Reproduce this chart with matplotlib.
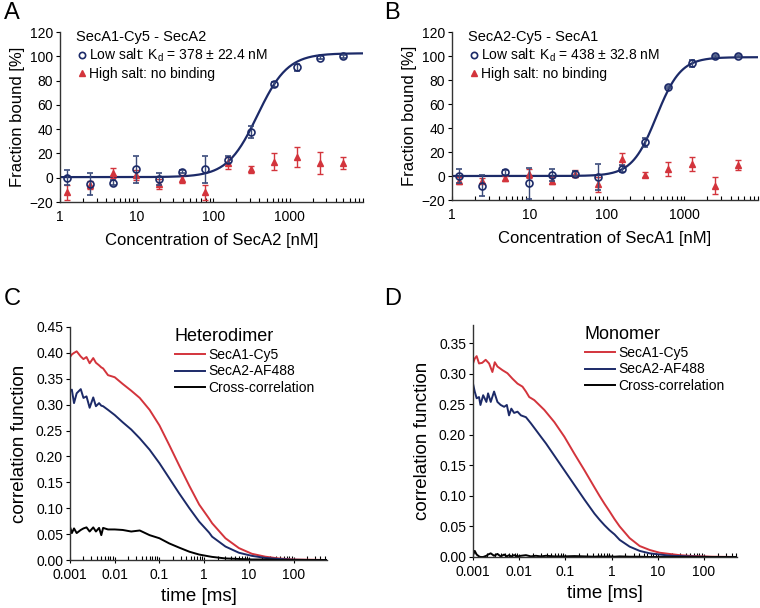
import numpy as np
import matplotlib
matplotlib.use('Agg')
import matplotlib.pyplot as plt
from matplotlib.lines import Line2D
from matplotlib.ticker import LogLocator, NullFormatter, FixedLocator, FixedFormatter, FormatStrFormatter

plt.rcParams['font.family'] = ['Liberation Sans', 'DejaVu Sans']

NAVY = '#1c2a68'
RED = '#d3343c'

# ---- binding data (MST), dilution series in nM
conc = [1.22, 2.44, 4.88, 9.77, 19.5, 39.1, 78.1, 156, 312, 625, 1250, 2500, 5000]

a_low = [0, -5, -4, 7, -1, 5, 7, 15, 38, 77, 91, 99, 100]
a_low_err = [6, 9, 2, 11, 5, 1, 11, 3, 5, 2, 3, 1, 1]
a_high = [-12, -6, 4, 2, -5, -1, -12, 12, 7, 13, 17, 12, 12]
a_high_err = [6, 3, 4, 4, 4, 3, 6, 5, 3, 7, 8, 9, 5]

b_low = [0, -8, 3, -6, 1, 2, -1, 6, 28, 74, 94, 100, 100]
b_low_err = [6, 9, 2, 13, 5, 2, 11, 3, 4, 1, 3, 1, 1]
b_high = [-4, -4, -2, 2, -4, 2, -7, 14, 1, 6, 10, -8, 9]
b_high_err = [3, 2, 2, 4, 3, 3, 6, 5, 2, 6, 6, 7, 4]

# fit parameters: [bottom, top, Kd, hill]
fit_a = [0.5, 102.5, 378, 2.2]
fit_b = [0.0, 99.0, 438, 2.75]

# ---- FCS curves, time in ms
tC = [0.001, 0.0011, 0.00123, 0.00141, 0.00174, 0.002, 0.00234, 0.00275, 0.00331,
      0.0038, 0.00447, 0.00501, 0.0055, 0.00708, 0.01, 0.0151, 0.0234, 0.0363,
      0.0603, 0.1, 0.166, 0.275, 0.468, 0.776, 1.29, 1.51, 3.0, 6.0, 11.7, 23.4,
      46.8, 100, 250, 560]
c_red = [0.392, 0.397, 0.400, 0.403, 0.393, 0.388, 0.392, 0.380, 0.390, 0.381,
         0.376, 0.372, 0.370, 0.357, 0.353, 0.340, 0.327, 0.313, 0.290, 0.260,
         0.222, 0.183, 0.143, 0.107, 0.080, 0.071, 0.042, 0.023, 0.012, 0.0064,
         0.003, 0.001, 0.0005, 0.0]
c_blue = [0.326, 0.329, 0.303, 0.322, 0.330, 0.313, 0.316, 0.294, 0.314, 0.297,
          0.303, 0.298, 0.297, 0.290, 0.280, 0.266, 0.252, 0.235, 0.213, 0.187,
          0.158, 0.129, 0.100, 0.074, 0.053, 0.045, 0.026, 0.014, 0.008, 0.004,
          0.002, 0.0005, 0.0, 0.0]
c_black = [0.064, 0.052, 0.061, 0.052, 0.058, 0.061, 0.063, 0.055, 0.063, 0.055,
           0.062, 0.048, 0.062, 0.059, 0.059, 0.058, 0.055, 0.057, 0.048, 0.042,
           0.032, 0.024, 0.016, 0.0105, 0.007, 0.006, 0.003, 0.002, 0.001, 0.001,
           0.0, 0.0, 0.0, 0.0]

tD_red = [0.001, 0.00109, 0.0012, 0.00135, 0.00158, 0.00188, 0.00223, 0.00263, 0.00296,
          0.00338, 0.00435, 0.00557, 0.00716, 0.0092, 0.0118, 0.014, 0.0165, 0.0212,
          0.0349, 0.0577, 0.0951, 0.157, 0.259, 0.427, 0.55, 0.705, 0.9, 1.16, 1.5,
          2.46, 4.06, 6.7, 11, 18, 30, 60, 150, 520]
d_red = [0.317, 0.325, 0.329, 0.317, 0.318, 0.323, 0.317, 0.303, 0.319, 0.312,
         0.306, 0.301, 0.292, 0.284, 0.279, 0.271, 0.262, 0.257, 0.241, 0.221,
         0.197, 0.169, 0.142, 0.114, 0.100, 0.087, 0.075, 0.062, 0.050, 0.031,
         0.018, 0.0115, 0.007, 0.005, 0.003, 0.0015, 0.0005, 0.0]

tD = [0.001, 0.00109, 0.0012, 0.00135, 0.00145, 0.00166, 0.00195, 0.00212, 0.00242,
      0.00286, 0.00338, 0.00398, 0.00472, 0.0054, 0.00603, 0.00676, 0.00776, 0.0092,
      0.0109, 0.014, 0.0179, 0.023, 0.0295, 0.038, 0.0577, 0.0951, 0.157, 0.259,
      0.427, 0.55, 0.705, 0.9, 1.16, 1.5, 2.46, 4.06, 6.7, 11, 20, 50, 150, 520]
d_blue = [0.284, 0.271, 0.260, 0.262, 0.249, 0.265, 0.254, 0.268, 0.254, 0.271,
          0.254, 0.249, 0.246, 0.249, 0.232, 0.243, 0.236, 0.238, 0.232, 0.229,
          0.219, 0.208, 0.197, 0.186, 0.166, 0.142, 0.118, 0.094, 0.071, 0.061,
          0.052, 0.044, 0.037, 0.028, 0.017, 0.010, 0.006, 0.004, 0.002, 0.001,
          0.0, 0.0]
d_black = [0.003, 0.010, 0.004, 0.001, 0.0, 0.0, 0.002, 0.004, 0.006, 0.002,
           0.005, 0.001, 0.004, 0.001, 0.003, 0.001, 0.003, 0.001, 0.002, 0.003,
           0.001, 0.002, 0.001, 0.002, 0.001, 0.001, 0.0015, 0.001, 0.0005, 0.001,
           0.0005, 0.001, 0.0005, 0.001, 0.0005, 0.0005, 0.0, 0.0, 0.0, 0.0, 0.0, 0.0]


def hill(x, p):
    bottom, top, kd, n = p
    return bottom + (top - bottom) * x**n / (kd**n + x**n)


def style_axes(ax):
    for s in ['top', 'right']:
        ax.spines[s].set_visible(False)
    for s in ['left', 'bottom']:
        ax.spines[s].set_color('#333333')
        ax.spines[s].set_linewidth(1.0)
    ax.tick_params(axis='y', direction='out', length=3, width=0.8, labelsize=10, pad=2)
    ax.tick_params(axis='x', which='major', direction='inout', length=5, width=0.8, labelsize=10)
    ax.tick_params(axis='x', which='minor', direction='in', length=3, width=0.8)


def binding_panel(ax, low, low_err, high, high_err, p, title, xlabel, kd_text):
    xs = np.logspace(0, np.log10(9000), 300)
    ax.plot(xs, hill(xs, p), color=NAVY, lw=1.6, zorder=2)
    ax.errorbar(conc, high, yerr=high_err, fmt='^', ms=5, color=RED, mfc=RED, mec=RED,
                ecolor=RED, elinewidth=1, capsize=2.5, capthick=1, zorder=3)
    ax.errorbar(conc, low, yerr=low_err, fmt='o', ms=5, color=NAVY, mfc='none', mec=NAVY,
                mew=1.2, ecolor='#3a4a7a', elinewidth=1, capsize=2.5, capthick=1, zorder=4)
    ax.set_xscale('log')
    ax.set_xlim(1, 9000)
    ax.set_ylim(-20, 120)
    ax.set_yticks(range(-20, 121, 20))
    ax.xaxis.set_major_locator(FixedLocator([1, 10, 100, 1000]))
    ax.xaxis.set_major_formatter(FixedFormatter(['1', '10', '100', '1000']))
    ax.xaxis.set_minor_locator(LogLocator(base=10, subs=np.arange(2, 10)))
    ax.xaxis.set_minor_formatter(NullFormatter())
    style_axes(ax)
    ax.tick_params(axis='x', which='major', direction='in', length=3)
    ax.tick_params(axis='x', pad=6)
    ax.set_ylabel('Fraction bound [%]', fontsize=12, labelpad=3)
    ax.set_xlabel(xlabel, fontsize=12, labelpad=6)
    handles = [Line2D([], [], ls='none', marker='o', ms=4.5, mfc='none', mec=NAVY, mew=1.2),
               Line2D([], [], ls='none', marker='^', ms=4, mfc=RED, mec=RED)]
    labels = ['Low salt: K$_\\mathregular{d}$ = ' + kd_text, 'High salt: no binding']
    leg = ax.legend(handles, labels, title=title, loc='upper left', bbox_to_anchor=(0.02, 1.07),
                    frameon=False, fontsize=10, title_fontsize=10.5, handletextpad=0.05,
                    handlelength=0.9, labelspacing=0.2, borderaxespad=0.3)
    leg._legend_box.align = 'left'


def fcs_panel(ax, t_red, red, t, blue, black, title, ymax, xmax):
    ax.plot(t_red, red, color=RED, lw=1.4, label='SecA1-Cy5')
    ax.plot(t, blue, color=NAVY, lw=1.4, label='SecA2-AF488')
    ax.plot(t, black, color='black', lw=1.4, label='Cross-correlation')
    ax.set_xscale('log')
    ax.set_xlim(0.001, xmax)
    ax.set_ylim(0, ymax)
    ax.set_yticks(np.arange(0, ymax + 0.001, 0.05))
    ax.yaxis.set_major_formatter(FormatStrFormatter('%.2f'))
    ax.xaxis.set_major_locator(FixedLocator([0.001, 0.01, 0.1, 1, 10, 100]))
    ax.xaxis.set_major_formatter(FixedFormatter(['0.001', '0.01', '0.1', '1', '10', '100']))
    ax.xaxis.set_minor_locator(LogLocator(base=10, subs=np.arange(2, 10)))
    ax.xaxis.set_minor_formatter(NullFormatter())
    style_axes(ax)
    ax.set_ylabel('correlation function', fontsize=13.5, labelpad=6)
    ax.set_xlabel('time [ms]', fontsize=13.5, labelpad=4)
    leg = ax.legend(title=title, loc='upper right', bbox_to_anchor=(1.0, 1.05), frameon=False,
                    fontsize=10, title_fontsize=13, handlelength=2.2, handletextpad=0.2,
                    labelspacing=0.2)
    leg._legend_box.align = 'left'


fig = plt.figure(figsize=(7.6, 6.08), dpi=100)

axA = fig.add_axes([60/760, 1 - 202/608, 303/760, 170/608])
binding_panel(axA, a_low, a_low_err, a_high, a_high_err, fit_a, 'SecA1-Cy5 - SecA2',
              'Concentration of SecA2 [nM]', '378 ± 22.4 nM')

axB = fig.add_axes([452/760, 1 - 200/608, 306/760, 168/608])
binding_panel(axB, b_low, b_low_err, b_high, b_high_err, fit_b, 'SecA2-Cy5 - SecA1',
              'Concentration of SecA1 [nM]', '438 ± 32.8 nM')

axC = fig.add_axes([70/760, 1 - 560/608, 257/760, 233/608])
fcs_panel(axC, tC, c_red, tC, c_blue, c_black, 'Heterodimer', 0.45, 560)

axD = fig.add_axes([473/760, 1 - 557/608, 264/760, 232/608])
fcs_panel(axD, tD_red, d_red, tD, d_blue, d_black, 'Monomer', 0.38, 520)

for lab, x, y in [('A', 4, 2), ('B', 384, 2), ('C', 4, 288), ('D', 384, 288)]:
    fig.text(x/760, 1 - y/608, lab, fontsize=17, va='top', ha='left')

fig.savefig('out.png', dpi=100)
